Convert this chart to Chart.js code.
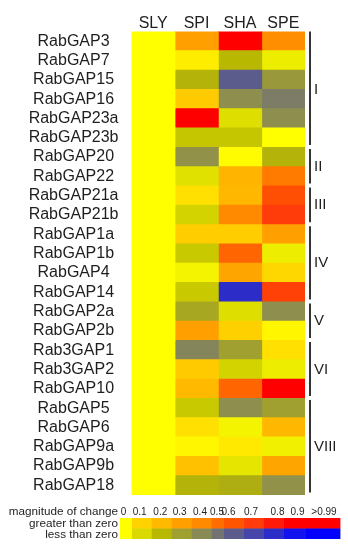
<!DOCTYPE html>
<html><head><meta charset="utf-8">
<script src="https://cdn.jsdelivr.net/npm/chart.js@4"></script>
<style>html,body{margin:0;padding:0;background:#fff}#wrap{width:348px;height:550px;position:relative}</style>
</head><body><div id="wrap"><canvas id="c" width="348" height="550"></canvas></div>
<script>
// ---- data ----
const genes = ['RabGAP3','RabGAP7','RabGAP15','RabGAP16','RabGAP23a','RabGAP23b','RabGAP20','RabGAP22',
  'RabGAP21a','RabGAP21b','RabGAP1a','RabGAP1b','RabGAP4','RabGAP14','RabGAP2a','RabGAP2b',
  'Rab3GAP1','Rab3GAP2','RabGAP10','RabGAP5','RabGAP6','RabGAP9a','RabGAP9b','RabGAP18'];
const species = ['SLY','SPI','SHA','SPE'];
// signed magnitude of change relative to SLY (positive = greater than zero, negative = less than zero)
const SLY = [0,0,0,0,0,0,0,0,0,0,0,0,0,0,0,0,0,0,0,0,0,0,0,0];
const SPI = [0.30,0.04,-0.22,0.13,0.95,-0.16,-0.37,-0.08,0.07,-0.12,0.12,-0.15,-0.03,-0.15,-0.27,0.30,-0.42,0.13,0.20,-0.15,0.07,0.02,0.17,-0.22];
const SHA = [1.00,-0.20,-0.60,-0.38,-0.09,-0.16,0.01,0.22,0.21,0.40,0.12,0.53,0.28,-0.80,-0.09,0.11,-0.30,-0.12,0.53,-0.38,-0.03,0.05,-0.07,-0.24];
const SPE = [0.38,-0.05,-0.33,-0.46,-0.38,0.00,-0.22,0.45,0.62,0.70,0.30,-0.05,0.09,0.68,-0.38,0.02,0.07,-0.05,0.92,-0.30,0.21,-0.04,0.28,-0.37];
const groupNames = ['I','II','III','IV','V','VI','VIII'];
const groupFirst = ['RabGAP3','RabGAP20','RabGAP21a','RabGAP1a','RabGAP2a','Rab3GAP1','RabGAP5'];
const groupLast = ['RabGAP23b','RabGAP22','RabGAP21b','RabGAP14','RabGAP2b','RabGAP10','RabGAP18'];
const legendTicks = ['0','0.1','0.2','0.3','0.4','0.5','0.6','0.7','0.8','0.9','>0.99'];
const legendStops = [0,0.1,0.2,0.3,0.4,0.5,0.6,0.7,0.8,0.9,1.0];
const upColors = ['#FFFF00','#FFD200','#FFBA00','#FFA000','#FF8A00','#FF6C00','#FF5400','#FF3C0A','#FF1A0A','#FF0000','#FF0000'];
const downColors = ['#FFFF00','#DADA00','#B8B800','#A0A030','#8A8A55','#737373','#5C5C8C','#4646A8','#2C2CC8','#1212EE','#0000FF'];

// ---- colour mapping ----
function hexRgb(h){return [parseInt(h.slice(1,3),16),parseInt(h.slice(3,5),16),parseInt(h.slice(5,7),16)];}
function colorFor(v){
  const pal = v >= 0 ? upColors : downColors;
  const m = Math.min(1, Math.abs(v));
  let i = 0;
  while (i < legendStops.length - 2 && m > legendStops[i+1]) i++;
  const t = (m - legendStops[i]) / (legendStops[i+1] - legendStops[i]);
  const a = hexRgb(pal[i]), b = hexRgb(pal[i+1]);
  const c = a.map((x,k)=>Math.round(x + (b[k]-x)*t));
  return 'rgb(' + c.join(',') + ')';
}
const values = [SLY, SPI, SHA, SPE];
const FONT = 'Liberation Sans, Arial, Helvetica, sans-serif';
const INK = '#1e1e1e';

const groupPlugin = {
  id: 'groups',
  afterDatasetsDraw(chart){
    const {ctx, chartArea, scales:{y}} = chart;
    const band = (chartArea.bottom - chartArea.top) / genes.length;
    ctx.save();
    ctx.strokeStyle = INK; ctx.lineWidth = 1.8;
    ctx.fillStyle = INK; ctx.font = '15px ' + FONT;
    ctx.textAlign = 'left'; ctx.textBaseline = 'middle';
    const lx = chartArea.right + 5;
    groupNames.forEach((g, k) => {
      const top = y.getPixelForValue(genes.indexOf(groupFirst[k])) - band/2;
      const bot = y.getPixelForValue(genes.indexOf(groupLast[k])) + band/2;
      ctx.beginPath(); ctx.moveTo(lx, top + (k === 0 ? 0 : 1.5)); ctx.lineTo(lx, bot - 2.5); ctx.stroke();
      ctx.fillText(g, lx + 4, (top + bot)/2);
    });
    ctx.restore();
  },
  afterDraw(chart){
    const {ctx} = chart;
    const edges = [120,131.7,151.7,171.7,191.7,211.7,223.3,243.3,263.3,283.3,306,340];
    const labelX = [123.5,139.7,160.3,179.7,200,217,228.5,251,277.5,297.5,324];
    const top = 518, mid = 528.5, bot = 539;
    ctx.save();
    ctx.fillStyle = upColors[0];
    ctx.fillRect(edges[0], top, edges[1]-edges[0], bot-top);
    for (let i = 1; i < legendTicks.length; i++){
      const w = edges[i+1]-edges[i] + 0.4;
      ctx.fillStyle = upColors[i]; ctx.fillRect(edges[i], top, w, mid-top + 0.4);
      ctx.fillStyle = downColors[i]; ctx.fillRect(edges[i], mid, w, bot-mid);
    }
    ctx.fillStyle = INK;
    ctx.textBaseline = 'alphabetic';
    ctx.textAlign = 'right'; ctx.font = '11.7px ' + FONT;
    ctx.fillText('magnitude of change', 118, 515);
    ctx.fillText('greater than zero', 118, 526.5);
    ctx.fillText('less than zero', 118, 537.5);
    ctx.textAlign = 'center'; ctx.font = '10px ' + FONT;
    legendTicks.forEach((t,i)=>ctx.fillText(t, labelX[i], 515));
    ctx.restore();
  }
};

new Chart(document.getElementById('c'), {
  type: 'bar',
  data: {
    labels: genes,
    datasets: species.map((s, i) => ({
      label: s,
      data: genes.map(() => 1),
      backgroundColor: values[i].map(colorFor),
      borderWidth: 0,
      inflateAmount: 0.5,
      barPercentage: 1,
      categoryPercentage: 1
    }))
  },
  options: {
    indexAxis: 'y',
    responsive: false,
    animation: false,
    layout: {padding: {top: 0, left: 0, right: 43, bottom: 55}},
    plugins: {legend: {display: false}, tooltip: {enabled: false}},
    scales: {
      x: {
        type: 'linear', position: 'top', stacked: true, min: 0, max: 4,
        grid: {display: false, drawTicks: false}, border: {display: false},
        afterBuildTicks: (s) => { s.ticks = species.map((_, i) => ({value: i + 0.5})); },
        ticks: {autoSkip: false, maxRotation: 0, padding: -2, color: INK,
          font: {family: FONT, size: 16}, callback: (v, i) => species[i]},
        afterFit: (s) => { s.height = 31.5; }
      },
      y: {
        type: 'category', stacked: true,
        grid: {display: false, drawTicks: false}, border: {display: false},
        ticks: {crossAlign: 'center', padding: 13, autoSkip: false, color: INK,
          font: {family: FONT, size: 16}},
        afterFit: (s) => { s.width = 131.5; }
      }
    }
  },
  plugins: [groupPlugin]
});
</script></body></html>
